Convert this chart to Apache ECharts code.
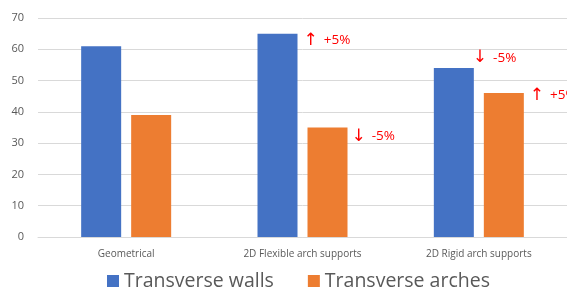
<!DOCTYPE html>
<html>
<head>
<meta charset="utf-8">
<script src="https://cdn.jsdelivr.net/npm/echarts@6/dist/echarts.min.js"></script>
<style>
  html, body { margin: 0; padding: 0; background: #fff; }
  #main { width: 567px; height: 296px; }
</style>
</head>
<body>
<div id="main"></div>
<script>
const categories = ['Geometrical', '2D Flexible arch supports', '2D Rigid arch supports']
const walls = [61, 65, 54]
const arches = [39, 35, 46]
const wallsNote = ['', '+5%', '-5%']
const archesNote = ['', '-5%', '+5%']
const wallsArrow = ['', '↑', '↓']
const archesArrow = ['', '↓', '↑']
// label offsets from bar top-left (just layout tweaks)
const wallsPos = [[0, 0], [46, 7], [39, -10]]
const archesPos = [[0, 0], [44, 9], [46, 2]]

const font = '"Open Sans", "Liberation Sans", sans-serif'

function makeData (vals, notes, arrows, pos) {
  return vals.map((v, i) => {
    if (!notes[i]) return v
    return {
      value: v,
      label: {
        show: true,
        position: pos[i],
        align: 'left',
        verticalAlign: 'middle',
        formatter: '{a|' + arrows[i] + '}{t|' + notes[i] + '}',
        rich: {
          a: { color: '#ff0000', fontSize: 17, fontFamily: 'DejaVu Sans', padding: [0, 6, 0, 0] },
          t: { color: '#ff0000', fontSize: 13.5, fontFamily: font }
        }
      }
    }
  })
}

let chart = echarts.init(document.getElementById('main'))
let option = {
  animation: false,
  backgroundColor: '#fff',
  grid: { left: 38, right: -3, top: 18, bottom: 59 },
  legend: {
    bottom: 0,
    left: 102,
    itemWidth: 12,
    itemHeight: 12,
    itemGap: 34,
    icon: 'rect',
    textStyle: { color: '#595959', fontSize: 19.5, fontFamily: font }
  },
  xAxis: {
    type: 'category',
    data: categories,
    axisLine: { lineStyle: { color: '#d9d9d9' } },
    axisTick: { show: false },
    axisLabel: { color: '#595959', fontSize: 10, fontFamily: font, margin: 12 }
  },
  yAxis: {
    type: 'value',
    min: 0,
    max: 70,
    interval: 10,
    axisLine: { show: false },
    axisTick: { show: false },
    splitLine: { lineStyle: { color: '#d9d9d9' } },
    axisLabel: { color: '#595959', fontSize: 11, fontFamily: font, margin: 14 }
  },
  series: [
    {
      name: 'Transverse walls',
      type: 'bar',
      barWidth: 40,
      barGap: '25%',
      itemStyle: { color: '#4472C4' },
      data: makeData(walls, wallsNote, wallsArrow, wallsPos)
    },
    {
      name: 'Transverse arches',
      type: 'bar',
      barWidth: 40,
      itemStyle: { color: '#ED7D31' },
      data: makeData(arches, archesNote, archesArrow, archesPos)
    }
  ]
}
chart.setOption(option)
</script>
</body>
</html>
